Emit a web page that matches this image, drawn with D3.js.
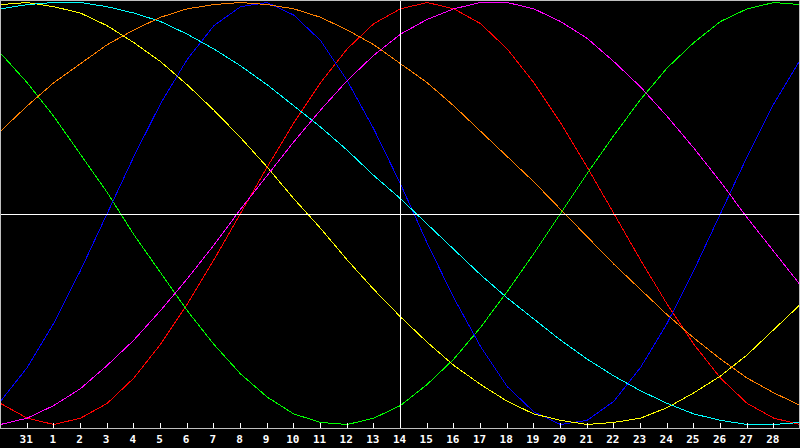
<!DOCTYPE html>
<html>
<head>
<meta charset="utf-8">
<script src="https://cdn.jsdelivr.net/npm/d3@7"></script>
<style>
  html, body { margin: 0; padding: 0; background: black; overflow: hidden; }
</style>
</head>
<body>
<div id="my_viz"></div>
<script>
var width = 800,
    height = 448,
    frameBottom = 428;

// day index 0..30 across the chart (0 = day 30 of the previous month)
var dayIndex = [0, 1, 2, 3, 4, 5, 6, 7, 8, 9, 10, 11, 12, 13, 14, 15,
                16, 17, 18, 19, 20, 21, 22, 23, 24, 25, 26, 27, 28, 29, 30];

// tick labels, one for day index 1..29
var tickLabels = ["31", "1", "2", "3", "4", "5", "6", "7", "8", "9", "10", "11", "12", "13", "14",
                  "15", "16", "17", "18", "19", "20", "21", "22", "23", "24", "25", "26", "27", "28"];

var todayIndex = 15;

// curve values, -100..100, one per day index
var redValues     = [-90, -97, -100, -97, -90, -78, -62, -43, -22, 0, 22, 43, 62, 78, 90, 97,
                     100, 97, 90, 78, 62, 43, 22, 0, -22, -43, -62, -78, -90, -97, -100];
var greenValues   = [76, 62, 46, 28, 10, -10, -28, -46, -62, -76, -87, -95, -99, -100, -97, -91,
                     -81, -69, -54, -37, -19, 0, 19, 37, 54, 69, 81, 91, 97, 100, 99];
var blueValues    = [-89, -73, -52, -27, 0, 27, 52, 73, 89, 98, 100, 94, 82, 63, 40, 14,
                     -14, -40, -63, -82, -94, -100, -98, -89, -73, -52, -27, 0, 27, 52, 73];
var yellowValues  = [99, 100, 98, 95, 89, 81, 72, 61, 49, 36, 22, 7, -7, -22, -36, -49,
                     -61, -72, -81, -89, -95, -98, -100, -99, -97, -92, -85, -77, -67, -55, -43];
var cyanValues    = [97, 99, 100, 100, 98, 95, 91, 85, 78, 70, 61, 51, 41, 30, 18, 7,
                     -5, -17, -29, -40, -50, -60, -69, -77, -84, -90, -95, -98, -100, -100, -99];
var magentaValues = [-100, -97, -91, -83, -72, -60, -46, -31, -15, 2, 18, 34, 49, 63, 75, 85,
                     92, 97, 100, 100, 97, 91, 83, 72, 60, 46, 31, 15, -2, -18, -34];
var orangeValues  = [39, 51, 62, 71, 80, 87, 93, 97, 99, 100, 99, 97, 93, 87, 80, 71,
                     62, 51, 39, 27, 15, 2, -11, -24, -36, -48, -59, -69, -78, -85, -91];

var series = [
    { color: "#ff0000", values: redValues },
    { color: "#00ff00", values: greenValues },
    { color: "#0000ff", values: blueValues },
    { color: "#ffff00", values: yellowValues },
    { color: "#00ffff", values: cyanValues },
    { color: "#ff00ff", values: magentaValues },
    { color: "#ff8000", values: orangeValues }
];

var x = d3.scaleLinear().domain([0, 30]).range([0, width]);
var y = d3.scaleLinear().domain([-100, 100]).range([424, 2]);

var svg = d3.select("#my_viz")
    .append("svg")
    .attr("width", width)
    .attr("height", height)
    .style("display", "block")
    .style("background", "black");

var plot = svg.append("g")
    .attr("transform", "translate(0.5,0.5)")
    .attr("shape-rendering", "crispEdges");

var line = d3.line()
    .x(function (d, i) { return x(dayIndex[i]); })
    .y(function (d) { return y(d); });

plot.selectAll(".curve").data(series)
    .enter().append("path")
    .classed("curve", true)
    .attr("d", function (d) { return line(d.values); })
    .attr("fill", "none")
    .attr("stroke", function (d) { return d.color; })
    .attr("stroke-width", 1);

// frame: top, left and right sides
plot.append("path")
    .attr("d", "M0," + frameBottom + "V0H" + (width - 1) + "V" + frameBottom)
    .attr("fill", "none")
    .attr("stroke", "#c0c0c0");

// crosshair: today and the zero line
plot.append("line")
    .attr("x1", x(todayIndex)).attr("x2", x(todayIndex))
    .attr("y1", 0).attr("y2", frameBottom)
    .attr("stroke", "#ffffff");

plot.append("line")
    .attr("x1", 0).attr("x2", width)
    .attr("y1", frameBottom / 2).attr("y2", frameBottom / 2)
    .attr("stroke", "#ffffff");

var axis = d3.axisBottom(x)
    .tickValues(dayIndex.slice(1, 30))
    .tickFormat(function (d, i) { return tickLabels[i]; })
    .tickSizeInner(-5)
    .tickSizeOuter(0)
    .tickPadding(7);

var gAxis = svg.append("g")
    .attr("transform", "translate(0," + frameBottom + ")")
    .attr("shape-rendering", "crispEdges")
    .call(axis);

gAxis.select(".domain").attr("stroke", "#c0c0c0");
gAxis.selectAll(".tick line").attr("stroke", "#ffffff");
gAxis.selectAll(".tick text")
    .attr("fill", "#ffffff")
    .attr("x", -1)
    .attr("font-family", "'DejaVu Sans Mono', monospace")
    .attr("font-weight", "bold")
    .attr("font-size", 11);
</script>
</body>
</html>
